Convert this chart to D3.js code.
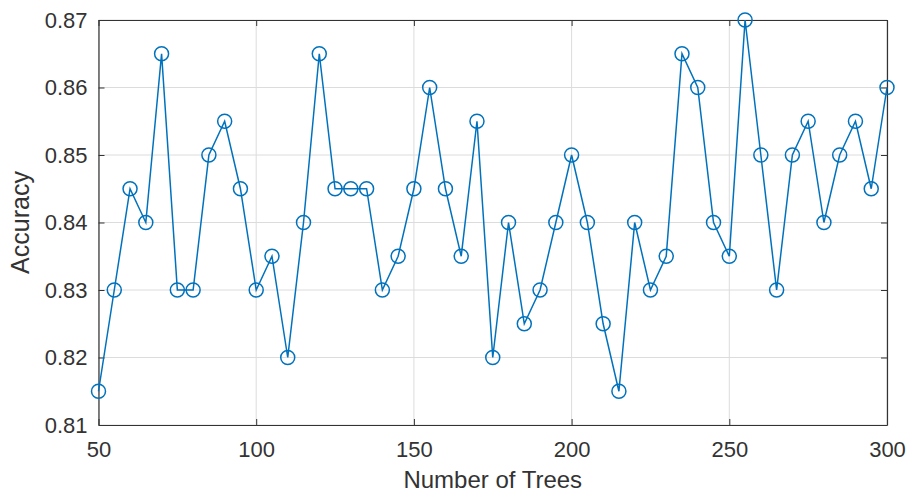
<!DOCTYPE html>
<html>
<head>
<meta charset="utf-8">
<script src="https://cdn.jsdelivr.net/npm/d3@7"></script>
<style>
  body { margin: 0; background: #fff; }
  svg { display: block; font-family: Arial, "Liberation Sans", sans-serif; }
</style>
</head>
<body>
<div id="main-container"></div>
<script>
// Data
const TREES = d3.range(50, 301, 5);
const ACCURACY = [
    0.815, 0.83, 0.845, 0.84, 0.865, 0.83, 0.83, 0.85, 0.855, 0.845,
    0.83, 0.835, 0.82, 0.84, 0.865, 0.845, 0.845, 0.845, 0.83, 0.835,
    0.845, 0.86, 0.845, 0.835, 0.855, 0.82, 0.84, 0.825, 0.83, 0.84,
    0.85, 0.84, 0.825, 0.815, 0.84, 0.83, 0.835, 0.865, 0.86, 0.84,
    0.835, 0.87, 0.85, 0.83, 0.85, 0.855, 0.84, 0.85, 0.855, 0.845,
    0.86
];
const X_TICKS = [50, 100, 150, 200, 250, 300];
const Y_TICKS = [0.81, 0.82, 0.83, 0.84, 0.85, 0.86, 0.87];

const SVG_WIDTH = 907;
const SVG_HEIGHT = 495;
const MARGIN = { top: 20, right: 20, bottom: 70, left: 98.5 };
const LINE_COLOR = '#0072BD';
const AXIS_COLOR = '#333333';

const SVG = d3.select('#main-container').append('svg')
    .attr('width', SVG_WIDTH)
    .attr('height', SVG_HEIGHT);

const X = d3.scaleLinear().domain([50, 300]).range([MARGIN.left, SVG_WIDTH - MARGIN.right]);
const Y = d3.scaleLinear().domain([0.81, 0.87]).range([SVG_HEIGHT - MARGIN.bottom, MARGIN.top]);

const points = TREES.map((t, i) => ({ x: t, y: ACCURACY[i] }));

// Grid
SVG.append('g')
    .selectAll('line')
    .data(X_TICKS)
    .join('line')
    .attr('x1', d => X(d)).attr('x2', d => X(d))
    .attr('y1', Y(0.81)).attr('y2', Y(0.87))
    .attr('stroke', '#dcdcdc').attr('stroke-width', 1);
SVG.append('g')
    .selectAll('line')
    .data(Y_TICKS)
    .join('line')
    .attr('x1', X(50)).attr('x2', X(300))
    .attr('y1', d => Y(d)).attr('y2', d => Y(d))
    .attr('stroke', '#dcdcdc').attr('stroke-width', 1);

// Axes (ticks inward on all sides)
const TICK = 6;
const xBottom = SVG.append('g')
    .attr('transform', `translate(0, ${Y(0.81)})`)
    .call(d3.axisBottom(X).tickValues(X_TICKS).tickSize(-TICK).tickPadding(16).tickSizeOuter(0));
const xTop = SVG.append('g')
    .attr('transform', `translate(0, ${Y(0.87)})`)
    .call(d3.axisTop(X).tickValues(X_TICKS).tickSize(-TICK).tickFormat('').tickSizeOuter(0));
const yLeft = SVG.append('g')
    .attr('transform', `translate(${X(50)}, 0)`)
    .call(d3.axisLeft(Y).tickValues(Y_TICKS).tickSize(-TICK).tickPadding(11).tickFormat(d3.format('.2f')).tickSizeOuter(0));
const yRight = SVG.append('g')
    .attr('transform', `translate(${X(300)}, 0)`)
    .call(d3.axisRight(Y).tickValues(Y_TICKS).tickSize(-TICK).tickFormat('').tickSizeOuter(0));

[xBottom, xTop, yLeft, yRight].forEach(g => {
    g.select('.domain').attr('stroke', AXIS_COLOR).attr('stroke-width', 1.2);
    g.selectAll('.tick line').attr('stroke', AXIS_COLOR).attr('stroke-width', 1);
    g.selectAll('.tick text')
        .attr('fill', AXIS_COLOR)
        .style('font-size', '22px')
        .style('font-family', 'Arial, "Liberation Sans", sans-serif');
});

// Line
SVG.append('path')
    .datum(points)
    .attr('fill', 'none')
    .attr('stroke', LINE_COLOR)
    .attr('stroke-width', 1.5)
    .attr('d', d3.line().x(d => X(d.x)).y(d => Y(d.y)));

// Markers
SVG.append('g')
    .selectAll('circle')
    .data(points)
    .join('circle')
    .attr('cx', d => X(d.x))
    .attr('cy', d => Y(d.y))
    .attr('r', 7)
    .attr('fill', 'none')
    .attr('stroke', LINE_COLOR)
    .attr('stroke-width', 1.5);

// Axis labels
SVG.append('text')
    .attr('x', (X(50) + X(300)) / 2)
    .attr('y', 488)
    .attr('text-anchor', 'middle')
    .attr('fill', AXIS_COLOR)
    .style('font-size', '24px')
    .text('Number of Trees');

SVG.append('text')
    .attr('transform', `translate(29, ${(Y(0.81) + Y(0.87)) / 2}) rotate(-90)`)
    .attr('text-anchor', 'middle')
    .attr('fill', AXIS_COLOR)
    .style('font-size', '25px')
    .text('Accuracy');
</script>
</body>
</html>
